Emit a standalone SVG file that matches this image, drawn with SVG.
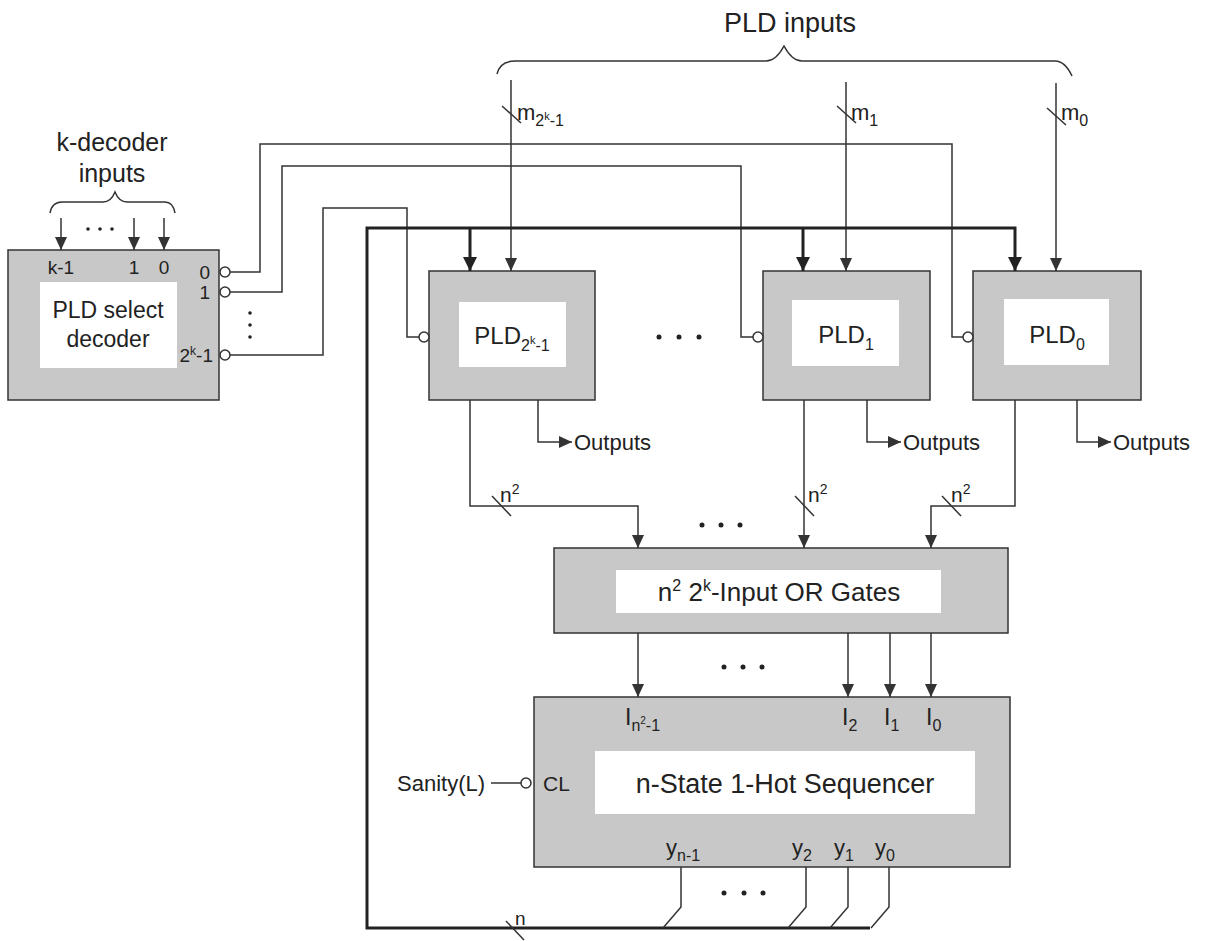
<svg xmlns="http://www.w3.org/2000/svg" width="1209" height="941" viewBox="0 0 1209 941">
<style>
.box{fill:#c8c8c8;stroke:#333;stroke-width:1.5}
.inner{fill:#fff;stroke:none}
.w{fill:none;stroke:#333;stroke-width:1.5}
.bus{fill:none;stroke:#222;stroke-width:3}
.bub{fill:#fff;stroke:#333;stroke-width:1.5}
.t{font-family:"Liberation Sans",Arial,sans-serif;fill:#222}
.dot{fill:#222}
</style>
<defs>
<marker id="a" markerUnits="userSpaceOnUse" markerWidth="13" markerHeight="12" viewBox="0 0 13 12" refX="13" refY="6" orient="auto"><path d="M0,0L13,6L0,12z" fill="#333"/></marker>
<marker id="ab" markerUnits="userSpaceOnUse" markerWidth="14" markerHeight="14" viewBox="0 0 14 14" refX="14" refY="7" orient="auto"><path d="M0,0L14,7L0,14z" fill="#222"/></marker>
</defs>
<rect width="1209" height="941" fill="#fff"/>

<g id="labels-top">
<text class="t" x="790" y="32" font-size="27" text-anchor="middle">PLD inputs</text>
<path class="w" d="M497,74 Q500,61 515,61 H766 Q776,61 784,46 Q792,61 802,61 H1055 Q1065,61 1072,76"/>
<text class="t" x="112" y="151" font-size="25" text-anchor="middle">k-decoder</text>
<text class="t" x="112" y="182" font-size="25" text-anchor="middle">inputs</text>
<path class="w" d="M50,213 Q52,202 62,202 H103 Q111,202 115,192 Q119,202 127,202 H165 Q173,202 175,213"/>
</g>

<g id="decoder">
<rect class="box" x="8" y="250" width="211" height="150"/>
<rect class="inner" x="40" y="282" width="137" height="86"/>
<text class="t" x="108" y="318" font-size="23" text-anchor="middle">PLD select</text>
<text class="t" x="108" y="347" font-size="23" text-anchor="middle">decoder</text>
<text class="t" x="61" y="274" font-size="19" text-anchor="middle">k-1</text>
<text class="t" x="134" y="274" font-size="19" text-anchor="middle">1</text>
<text class="t" x="164" y="274" font-size="19" text-anchor="middle">0</text>
<text class="t" x="210" y="279" font-size="19" text-anchor="end">0</text>
<text class="t" x="210" y="299" font-size="19" text-anchor="end">1</text>
<text class="t" x="213" y="362" font-size="19" text-anchor="end">2<tspan font-size="12" dy="-7">k</tspan><tspan dy="7">-1</tspan></text>
<circle class="bub" cx="225" cy="272" r="5"/>
<circle class="bub" cx="225" cy="292" r="5"/>
<circle class="bub" cx="225" cy="355" r="5"/>
</g>

<g id="pld-2k-1">
<rect class="box" x="429" y="271" width="166" height="129"/>
<rect class="inner" x="459" y="302" width="107" height="65"/>
<text class="t" x="512" y="344" font-size="24" text-anchor="middle">PLD<tspan font-size="16" dy="7">2</tspan><tspan font-size="11" dy="-7">k</tspan><tspan font-size="16" dy="7">-1</tspan></text>
<circle class="bub" cx="424" cy="337" r="5"/>
</g>

<g id="pld-1">
<rect class="box" x="763" y="271" width="167" height="129"/>
<rect class="inner" x="792" y="300" width="107" height="66"/>
<text class="t" x="846" y="343" font-size="24" text-anchor="middle">PLD<tspan font-size="16" dy="7">1</tspan></text>
<circle class="bub" cx="758" cy="337" r="5"/>
</g>

<g id="pld-0">
<rect class="box" x="973" y="271" width="168" height="129"/>
<rect class="inner" x="1004" y="299" width="105" height="66"/>
<text class="t" x="1057" y="343" font-size="24" text-anchor="middle">PLD<tspan font-size="16" dy="7">0</tspan></text>
<circle class="bub" cx="968" cy="337" r="5"/>
</g>

<g id="or-gates">
<rect class="box" x="554" y="548" width="454" height="85"/>
<rect class="inner" x="616" y="570" width="325" height="43"/>
<text class="t" x="779" y="601" font-size="26" text-anchor="middle">n<tspan font-size="16" dy="-10">2</tspan><tspan dy="10"> 2</tspan><tspan font-size="16" dy="-10">k</tspan><tspan dy="10">-Input OR Gates</tspan></text>
</g>

<g id="sequencer">
<rect class="box" x="534" y="697" width="476" height="170"/>
<rect class="inner" x="595" y="751" width="380" height="63"/>
<text class="t" x="785" y="793" font-size="27" text-anchor="middle">n-State 1-Hot Sequencer</text>
<text class="t" x="625" y="725" font-size="23">I<tspan font-size="16" dy="6">n</tspan><tspan font-size="10" dy="-7">2</tspan><tspan font-size="16" dy="7">-1</tspan></text>
<text class="t" x="842" y="725" font-size="23">I<tspan font-size="16" dy="6">2</tspan></text>
<text class="t" x="884" y="725" font-size="23">I<tspan font-size="16" dy="6">1</tspan></text>
<text class="t" x="926" y="725" font-size="23">I<tspan font-size="16" dy="6">0</tspan></text>
<text class="t" x="666" y="855" font-size="22">y<tspan font-size="16" dy="6">n-1</tspan></text>
<text class="t" x="792" y="855" font-size="22">y<tspan font-size="16" dy="6">2</tspan></text>
<text class="t" x="834" y="855" font-size="22">y<tspan font-size="16" dy="6">1</tspan></text>
<text class="t" x="875" y="855" font-size="22">y<tspan font-size="16" dy="6">0</tspan></text>
<text class="t" x="543" y="791" font-size="21">CL</text>
<circle class="bub" cx="526" cy="783" r="5"/>
<text class="t" x="397" y="791" font-size="22">Sanity(L)</text>
</g>

<g id="outputs-labels">
<text class="t" x="574" y="450" font-size="22">Outputs</text>
<text class="t" x="903" y="450" font-size="22">Outputs</text>
<text class="t" x="1113" y="450" font-size="22">Outputs</text>
</g>

<g id="connectors">
<path class="w" d="M61,218 V250" marker-end="url(#a)"/>
<path class="w" d="M134,218 V250" marker-end="url(#a)"/>
<path class="w" d="M164,218 V250" marker-end="url(#a)"/>
<path class="w" d="M230,272 H260 V144 H952 V337 H963"/>
<path class="w" d="M230,292 H282 V166 H741 V337 H753"/>
<path class="w" d="M230,355 H323 V208 H407 V337 H419"/>
<path class="w" d="M511,80 V271" marker-end="url(#a)"/>
<path class="w" d="M846,82 V271" marker-end="url(#a)"/>
<path class="w" d="M1056,83 V271" marker-end="url(#a)"/>
<path class="w" d="M502,106 L521,123"/>
<path class="w" d="M837,106 L856,123"/>
<path class="w" d="M1047,108 L1066,125"/>
<path class="bus" d="M870,928 H367 V228 H1015 V271" marker-end="url(#ab)"/>
<path class="bus" d="M470,228 V271" marker-end="url(#ab)"/>
<path class="bus" d="M803,228 V271" marker-end="url(#ab)"/>
<path class="w" d="M506,921 L524,940"/>
<path class="w" d="M538,400 V442 H572" marker-end="url(#a)"/>
<path class="w" d="M867,400 V442 H901" marker-end="url(#a)"/>
<path class="w" d="M1077,400 V442 H1111" marker-end="url(#a)"/>
<path class="w" d="M470,400 V506 H638 V548" marker-end="url(#a)"/>
<path class="w" d="M804,400 V548" marker-end="url(#a)"/>
<path class="w" d="M1015,400 V506 H931 V548" marker-end="url(#a)"/>
<path class="w" d="M492,496 L511,516"/>
<path class="w" d="M795,496 L814,516"/>
<path class="w" d="M942,496 L961,516"/>
<path class="w" d="M638,633 V697" marker-end="url(#a)"/>
<path class="w" d="M848,633 V697" marker-end="url(#a)"/>
<path class="w" d="M890,633 V697" marker-end="url(#a)"/>
<path class="w" d="M931,633 V697" marker-end="url(#a)"/>
<path class="w" d="M681,867 V907 L663,928"/>
<path class="w" d="M806,867 V907 L788,928"/>
<path class="w" d="M848,867 V907 L830,928"/>
<path class="w" d="M889,867 V907 L871,928"/>
<path class="w" d="M491,783 H521"/>
</g>

<g id="bus-labels">
<text class="t" x="515" y="925" font-size="19">n</text>
<text class="t" x="517" y="120" font-size="22">m<tspan font-size="16" dy="6">2</tspan><tspan font-size="11" dy="-6">k</tspan><tspan font-size="16" dy="6">-1</tspan></text>
<text class="t" x="851" y="120" font-size="22">m<tspan font-size="16" dy="6">1</tspan></text>
<text class="t" x="1061" y="120" font-size="22">m<tspan font-size="16" dy="6">0</tspan></text>
<text class="t" x="500" y="502" font-size="21">n<tspan font-size="14" dy="-8">2</tspan></text>
<text class="t" x="808" y="502" font-size="21">n<tspan font-size="14" dy="-8">2</tspan></text>
<text class="t" x="951" y="502" font-size="21">n<tspan font-size="14" dy="-8">2</tspan></text>
</g>

<g id="ellipses">
<circle class="dot" cx="88" cy="229" r="1.8"/><circle class="dot" cx="100" cy="229" r="1.8"/><circle class="dot" cx="112" cy="229" r="1.8"/>
<circle class="dot" cx="250" cy="313" r="1.8"/><circle class="dot" cx="250" cy="325" r="1.8"/><circle class="dot" cx="250" cy="337" r="1.8"/>
<circle class="dot" cx="659" cy="337" r="2.5"/><circle class="dot" cx="679" cy="337" r="2.5"/><circle class="dot" cx="699" cy="337" r="2.5"/>
<circle class="dot" cx="702" cy="525" r="2.5"/><circle class="dot" cx="721" cy="525" r="2.5"/><circle class="dot" cx="740" cy="525" r="2.5"/>
<circle class="dot" cx="724" cy="667" r="2.5"/><circle class="dot" cx="743" cy="667" r="2.5"/><circle class="dot" cx="762" cy="667" r="2.5"/>
<circle class="dot" cx="724" cy="893" r="2.5"/><circle class="dot" cx="744" cy="893" r="2.5"/><circle class="dot" cx="763" cy="893" r="2.5"/>
</g>
</svg>
